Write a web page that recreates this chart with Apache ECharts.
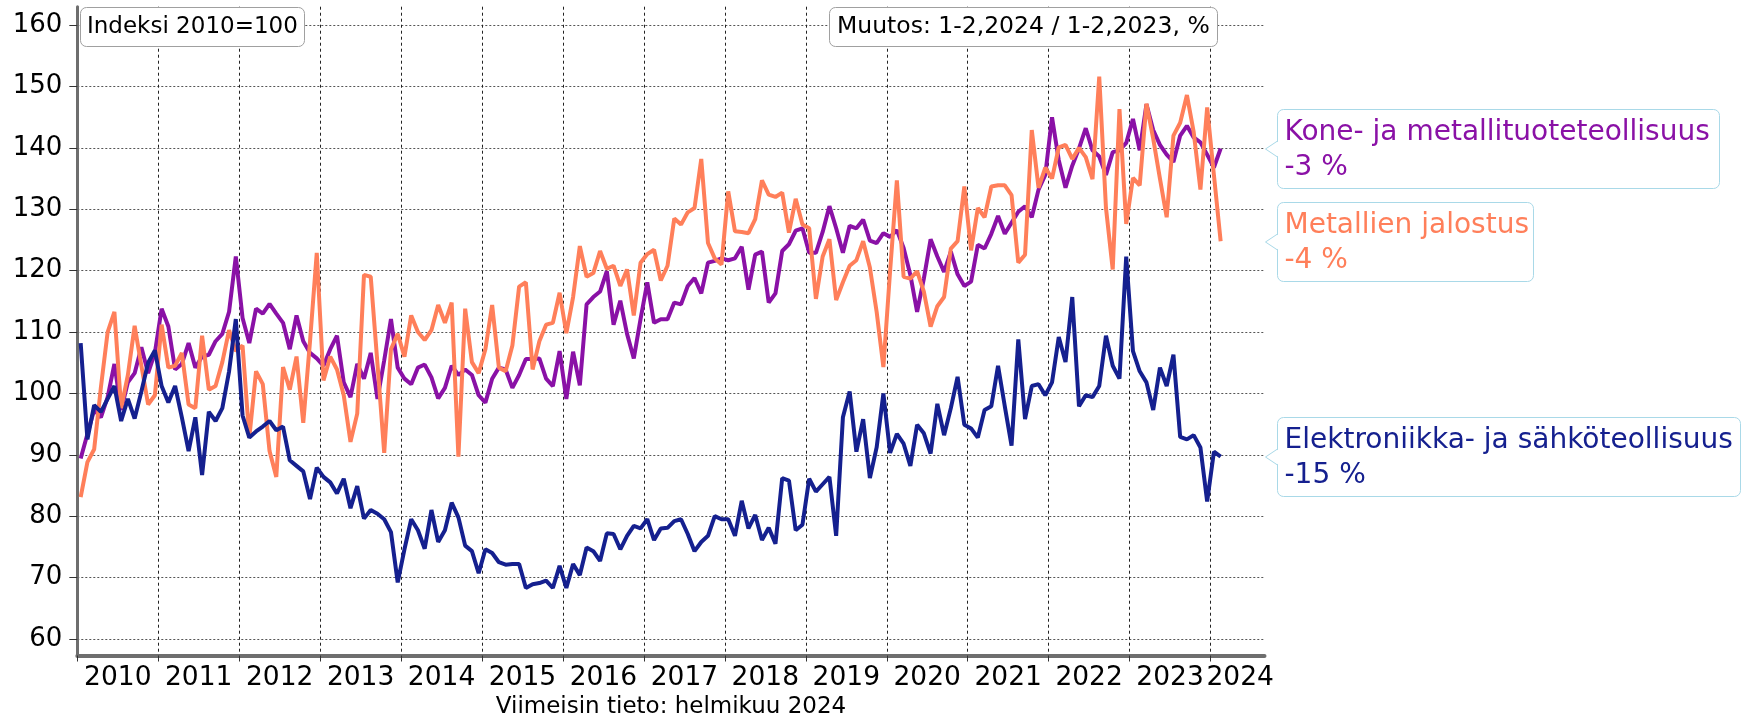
<!DOCTYPE html>
<html><head><meta charset="utf-8">
<script src="https://cdn.jsdelivr.net/npm/echarts@6/dist/echarts.min.js"></script>
<style>html,body{margin:0;padding:0;background:#fff}#c{width:1742px;height:720px}</style>
</head><body><div id="c"></div>
<script>
// Monthly index values, Jan 2010 .. Feb 2024 (2010=100)
const startYear = 2010;
const kone = [
 89.4,93.4,97.3,96.1,99.4,104.8,97.3,101.8,103.3,107.5,103.3,106.6,
 113.8,110.9,103.9,104.8,108.2,104.2,106.0,106.3,108.5,109.7,113.3,122.3,
 112.3,108.2,113.8,113.0,114.6,113.0,111.5,107.2,112.7,108.5,106.6,105.7,
 104.5,107.2,109.4,101.8,99.4,104.8,102.4,106.6,99.1,105.4,112.1,104.2,
 102.4,101.5,104.2,104.7,102.6,99.2,100.9,104.5,103.0,103.9,103.0,99.7,
 98.5,102.4,104.2,103.9,100.9,103.0,105.6,105.6,105.7,102.4,101.2,106.9,
 99.1,106.8,101.3,114.5,115.7,116.6,119.9,111.2,115.1,109.7,105.7,112.1,
 118.1,111.5,112.1,112.1,114.8,114.5,117.5,118.8,116.3,121.3,121.6,122.0,
 121.7,122.0,123.9,116.9,122.6,123.1,114.8,116.3,123.2,124.3,126.5,126.9,
 122.9,122.9,126.3,130.5,126.9,122.9,127.3,126.9,128.3,124.9,124.5,126.1,
 125.5,126.6,123.7,119.3,113.3,118.7,125.1,122.3,119.8,123.1,119.4,117.5,
 118.2,124.2,123.6,126.0,128.9,126.0,127.8,129.6,130.5,128.7,133.2,135.6,
 145.0,138.0,133.5,137.1,139.9,143.2,139.6,138.6,135.6,139.3,139.6,140.8,
 144.7,139.6,147.1,142.9,140.5,138.9,137.7,142.0,143.6,141.7,140.9,138.9,
 136.8,139.9
];
const metallit = [
 83.1,88.8,90.9,101.0,110.0,113.3,97.6,103.0,111.0,104.5,98.2,99.7,
 111.2,104.2,104.5,106.6,98.2,97.6,109.4,100.6,101.2,105.1,110.3,106.9,
 107.8,92.8,103.6,101.5,90.6,86.4,104.3,100.6,106.0,95.2,108.5,122.9,
 102.1,106.0,103.9,99.7,92.1,96.7,119.3,119.0,104.8,90.3,107.2,109.7,
 106.0,112.7,110.0,108.7,110.3,114.4,111.5,114.8,89.7,113.8,105.1,103.3,
 107.2,114.4,104.2,103.6,107.8,117.4,118.1,103.9,108.5,111.2,111.5,116.4,
 109.8,115.7,124.0,119.0,119.6,123.2,120.3,120.8,117.5,120.2,112.7,121.3,
 122.7,123.4,118.4,120.8,128.5,127.5,129.5,130.2,138.2,124.5,122.0,121.0,
 132.9,126.4,126.3,126.1,128.4,134.7,132.4,132.0,132.7,126.2,131.7,127.5,
 126.9,115.4,122.3,125.1,115.2,118.1,120.8,121.7,124.8,120.5,113.3,104.3,
 120.0,134.7,119.0,118.7,119.9,116.6,110.9,114.2,115.7,123.6,124.8,133.7,
 123.3,130.2,128.7,133.7,133.9,133.9,132.3,121.3,122.6,142.9,133.5,136.8,
 135.0,140.1,140.5,138.2,140.0,138.5,134.9,151.6,130.2,120.2,146.3,127.6,
 135.1,133.9,147.2,141.5,135.0,128.7,142.0,144.1,148.6,142.6,133.2,146.6,
 135.6,124.8
];
const elektro = [
 108.2,92.5,98.1,97.0,99.1,101.2,95.5,99.1,95.9,100.3,105.0,107.0,
 101.2,98.5,101.2,96.1,90.6,96.1,86.7,97.0,95.5,97.6,103.6,112.1,
 96.4,92.8,93.8,94.6,95.5,94.0,94.6,89.1,88.2,87.3,82.8,87.9,
 86.4,85.5,83.7,86.1,81.3,84.9,79.6,81.0,80.4,79.5,77.4,69.2,
 74.6,79.5,77.7,74.7,81.0,75.8,77.7,82.2,79.8,75.2,74.3,70.7,
 74.6,74.0,72.5,72.1,72.2,72.2,68.3,68.9,69.1,69.5,68.3,71.9,
 68.3,72.2,70.4,74.9,74.3,72.7,77.2,77.1,74.6,76.8,78.4,78.0,
 79.5,76.1,78.0,78.1,79.2,79.5,77.1,74.3,75.8,76.8,80.0,79.5,
 79.5,76.8,82.5,78.0,80.2,76.1,78.1,75.5,86.2,85.8,77.7,78.6,
 86.1,84.0,85.2,86.4,76.8,96.1,100.3,90.5,95.8,86.2,91.2,100.0,
 90.3,93.4,91.8,88.2,94.9,93.5,90.2,98.3,93.2,97.6,102.7,94.9,
 94.3,92.8,97.3,97.9,104.5,97.9,91.5,108.8,95.8,101.2,101.5,99.7,
 101.8,109.2,105.1,115.7,97.9,99.7,99.4,101.2,109.4,104.5,102.4,122.3,
 106.9,103.6,101.8,97.3,104.2,101.2,106.3,92.9,92.5,93.2,91.2,82.4,
 90.5,89.7
];
const seriesNames = ['Kone- ja metallituoteteollisuus', 'Metallien jalostus', 'Elektroniikka- ja sähköteollisuus'];
const changes = ['-3 %', '-4 %', '-15 %'];
const yTicks = [60, 70, 80, 90, 100, 110, 120, 130, 140, 150, 160];
const yearBoundaries = [0, 12, 24, 36, 48, 60, 72, 84, 96, 108, 120, 132, 144, 156, 168];
const yearLabelPos = [6, 18, 30, 42, 54, 66, 78, 90, 102, 114, 126, 138, 150, 162, 172.4];
const titleLeft = 'Indeksi 2010=100';
const titleRight = 'Muutos: 1-2,2024 / 1-2,2023, %';
const footer = 'Viimeisin tieto: helmikuu 2024';

const FONT = 'DejaVu Sans';
const X_MAX = 176;
const colors = ['#8a11a6', '#ff7f5a', '#15208f'];
const boxW = [442, 256, 463];
const BOX_H = 79;
const NOTCH_D = 12, NOTCH_N = 8;
const CALLOUT_BORDER = '#a9d9e8';

const allData = [kone, metallit, elektro];
const series = allData.map((vals, k) => ({
  name: seriesNames[k],
  type: 'line',
  data: vals.map((v, i) => [i + 0.5, v]),
  showSymbol: false,
  symbol: 'none',
  lineStyle: { width: 4, color: colors[k] },
  itemStyle: { color: colors[k] },
  z: 3 + k,
  emphasis: { disabled: true }
}));

const chart = echarts.init(document.getElementById('c'), null, { renderer: 'canvas' });
chart.setOption({
  animation: false,
  backgroundColor: '#ffffff',
  textStyle: { fontFamily: FONT },
  title: [
    { text: titleLeft, left: 80, top: 7, padding: [7, 7], backgroundColor: '#fff', borderColor: '#a0a0a0', borderWidth: 1, borderRadius: 6,
      textStyle: { fontSize: 23, fontWeight: 'normal', color: '#000', fontFamily: FONT, lineHeight: 26 } },
    { text: titleRight, left: 829, top: 7, padding: [7, 8], backgroundColor: '#fff', borderColor: '#a0a0a0', borderWidth: 1, borderRadius: 6,
      textStyle: { fontSize: 23.5, fontWeight: 'normal', color: '#000', fontFamily: FONT, lineHeight: 26 } }
  ],
  grid: { left: 77.3, top: 6.7, width: 1187.2, height: 648.8, containLabel: false },
  xAxis: {
    type: 'value', min: 0, max: X_MAX,
    axisLine: { show: true, onZero: false, lineStyle: { color: '#6e6e6e', width: 4 } },
    axisTick: { show: true, customValues: yearBoundaries, length: 6, lineStyle: { color: '#333', width: 1 } },
    axisLabel: { show: true, customValues: yearLabelPos, formatter: v => String(startYear + Math.floor(v / 12)),
      fontSize: 26.5, color: '#000', margin: 9, fontFamily: FONT },
    splitLine: { show: true, lineStyle: { color: '#222', width: 1, type: [3, 3] } }
  },
  yAxis: {
    type: 'value', min: 57.3, max: 163,
    axisLine: { show: true, lineStyle: { color: '#6e6e6e', width: 3 } },
    axisTick: { show: true, customValues: yTicks, length: 8, lineStyle: { color: '#333', width: 1 } },
    axisLabel: { show: true, customValues: yTicks, fontSize: 26, color: '#000', margin: 15, fontFamily: FONT },
    splitLine: { show: true, lineStyle: { color: '#555', width: 1, type: [2, 2] } }
  },
  series: series
});

// Callouts anchored to the last value of each series via the chart's own scales
const graphics = [{
  type: 'text', x: 671, y: 707,
  style: { text: footer, font: '23px "DejaVu Sans"', fill: '#000', textAlign: 'center', textVerticalAlign: 'middle' }
}];
allData.forEach((vals, k) => {
  const p = chart.convertToPixel({ gridIndex: 0 }, [X_MAX, vals[vals.length - 1]]);
  const x0 = Math.round(p[0]) + 0.5;
  const y0 = Math.round(p[1] - BOX_H / 2) + 0.5;
  const m = BOX_H / 2;
  graphics.push({
    type: 'group', x: x0, y: y0, z: 50,
    children: [
      { type: 'rect', z: 50, shape: { x: NOTCH_D, y: 0, width: boxW[k], height: BOX_H, r: 6 },
        style: { fill: '#ffffff', stroke: CALLOUT_BORDER, lineWidth: 1 } },
      { type: 'polygon', z: 51, shape: { points: [[NOTCH_D + 1.5, m - NOTCH_N], [0, m], [NOTCH_D + 1.5, m + NOTCH_N]] },
        style: { fill: '#ffffff', stroke: null } },
      { type: 'polyline', z: 52, shape: { points: [[NOTCH_D, m - NOTCH_N], [0, m], [NOTCH_D, m + NOTCH_N]] },
        style: { stroke: CALLOUT_BORDER, lineWidth: 1, fill: null } },
      { type: 'text', z: 53, x: 19, y: 6,
        style: { text: seriesNames[k] + '\n' + changes[k], fill: colors[k], font: '28px "DejaVu Sans"',
          lineHeight: 35, textAlign: 'left', textVerticalAlign: 'top' } }
    ]
  });
});
chart.setOption({ graphic: graphics });
</script></body></html>
